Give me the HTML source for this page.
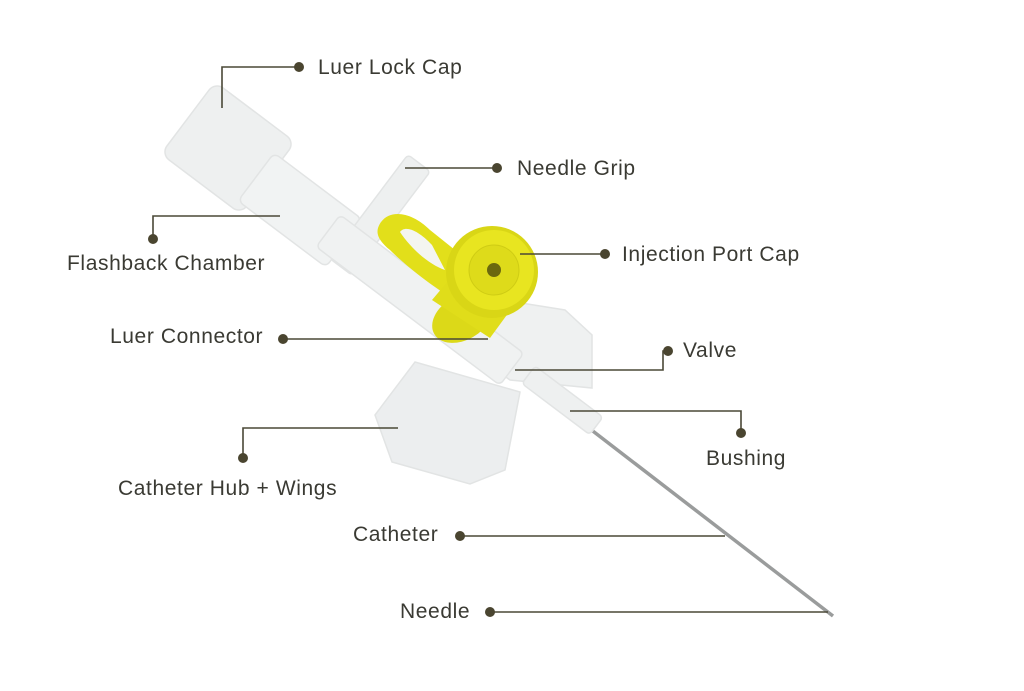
<!DOCTYPE html>
<html><head><meta charset="utf-8"><style>
html,body{margin:0;padding:0;background:#fff;}
svg{display:block}
text{font-family:"Liberation Sans",sans-serif;font-size:21px;letter-spacing:0.6px;fill:#3a3a33;}
</style></head><body>
<svg width="1024" height="691" viewBox="0 0 1024 691" xmlns="http://www.w3.org/2000/svg">
<rect width="1024" height="691" fill="#fff"/>
<g stroke="#e2e4e4" stroke-width="1.5">
  <line x1="585" y1="425" x2="833" y2="616" stroke="#9a9c9c" stroke-width="3.5"/>
  <rect x="178" y="103" width="100" height="90" rx="10" transform="rotate(37 228 148)" fill="#eef0f0"/>
  <rect x="245" y="180" width="110" height="60" rx="6" transform="rotate(37 300 210)" fill="#f1f3f3"/>
  <rect x="366" y="150" width="28" height="130" rx="4" transform="rotate(37 380 215)" fill="#eef0f0"/>
  <polygon points="375,415 415,362 520,392 505,470 470,484 392,462" fill="#eceeef"/>
  <polygon points="452,292 565,310 592,335 592,388 510,380 455,340" fill="#eff1f1"/>
  <rect x="305" y="280" width="230" height="40" rx="5" transform="rotate(37 420 300)" fill="#f0f2f2"/>
  <rect x="520" y="389" width="85" height="22" rx="4" transform="rotate(37 562 400)" fill="#eef0f0"/>
</g>
<path d="M378,228 C385,208 410,210 430,230 L470,262 L455,300 C430,285 405,265 390,250 C380,242 376,235 378,228 Z" fill="#e2df1a"/>
<path d="M400,232 C405,225 418,230 432,245 L445,270 C430,265 412,250 400,232 Z" fill="#f4f5f0"/>
<ellipse cx="462" cy="318" rx="32" ry="22" fill="#dcd918" transform="rotate(-30 462 318)"/>
<path d="M432,300 L470,255 L525,290 L490,338 Z" fill="#e0dd1a"/>
<circle cx="492" cy="272" r="46" fill="#d9d616"/>
<circle cx="494" cy="270" r="40" fill="#e8e520"/>
<circle cx="494" cy="270" r="25" fill="#dedb1a" stroke="#cfcc14"/>
<circle cx="494" cy="270" r="7" fill="#6a680e"/>
<g stroke="#4a4837" stroke-width="1.6" fill="none">
  <polyline points="222,108 222,67 299,67"/>
  <line x1="405" y1="168" x2="497" y2="168"/>
  <polyline points="280,216 153,216 153,239"/>
  <line x1="520" y1="254" x2="605" y2="254"/>
  <line x1="283" y1="339" x2="488" y2="339"/>
  <polyline points="515,370 663,370 663,351 668,351"/>
  <polyline points="570,411 741,411 741,433"/>
  <polyline points="398,428 243,428 243,458"/>
  <line x1="460" y1="536" x2="725" y2="536"/>
  <line x1="490" y1="612" x2="828" y2="612"/>
</g>
<g fill="#4a4530">
  <circle cx="299" cy="67" r="5"/><circle cx="497" cy="168" r="5"/>
  <circle cx="153" cy="239" r="5"/><circle cx="605" cy="254" r="5"/>
  <circle cx="283" cy="339" r="5"/><circle cx="668" cy="351" r="5"/>
  <circle cx="741" cy="433" r="5"/><circle cx="243" cy="458" r="5"/>
  <circle cx="460" cy="536" r="5"/><circle cx="490" cy="612" r="5"/>
</g>
<text x="318" y="74">Luer Lock Cap</text>
<text x="517" y="175">Needle Grip</text>
<text x="67" y="270">Flashback Chamber</text>
<text x="622" y="261">Injection Port Cap</text>
<text x="110" y="343">Luer Connector</text>
<text x="683" y="357">Valve</text>
<text x="706" y="465">Bushing</text>
<text x="118" y="495">Catheter Hub + Wings</text>
<text x="353" y="541">Catheter</text>
<text x="400" y="618">Needle</text>
</svg>
</body></html>
